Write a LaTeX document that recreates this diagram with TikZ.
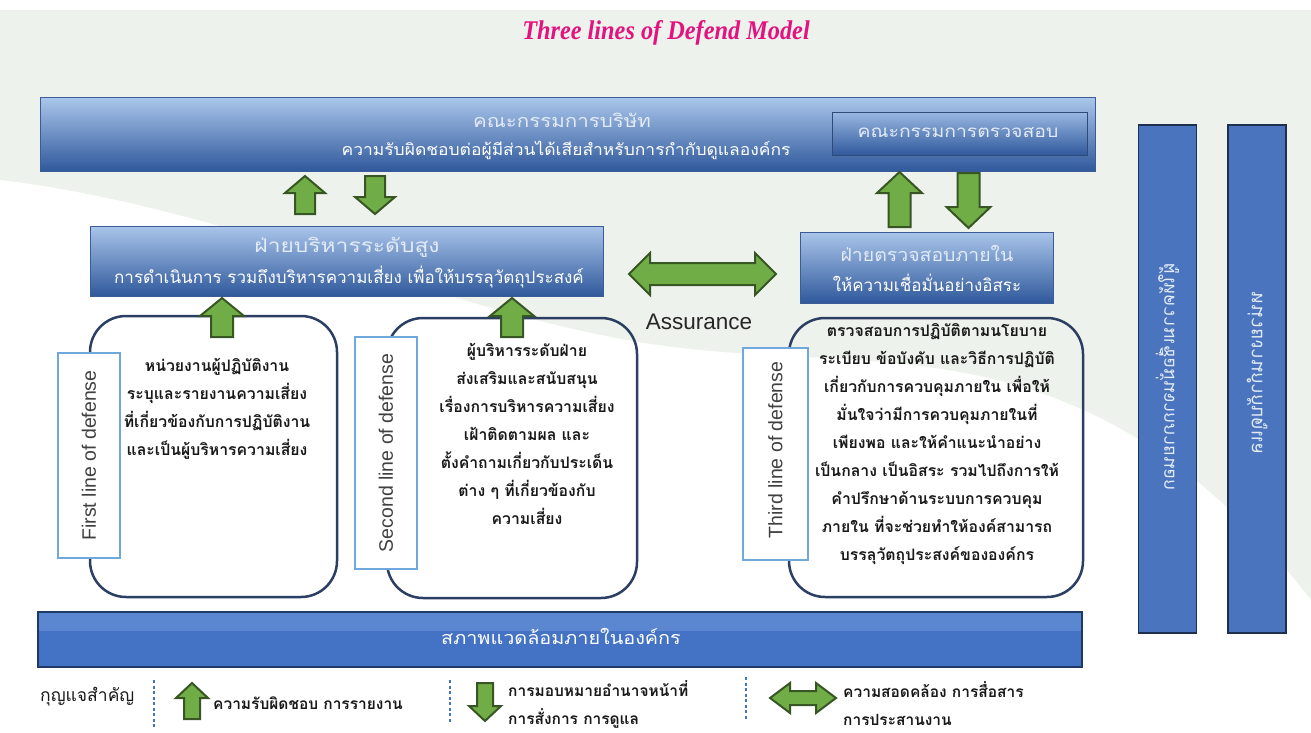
\documentclass[tikz,border=0pt]{standalone}
\usepackage{fontspec}
\setmainfont{Liberation Sans}
\newfontfamily\thai[Script=Thai]{Loma}
\newfontfamily\ttlfont{Liberation Serif}
\definecolor{bgray}{HTML}{EEF2EC}
\definecolor{btop}{HTML}{A9C5EA}
\definecolor{bmid}{HTML}{4E79BD}
\definecolor{bbot}{HTML}{30599C}
\definecolor{bedge}{HTML}{3B5C96}
\definecolor{navy}{HTML}{2B3E63}
\definecolor{lblue}{HTML}{6FA8DC}
\definecolor{grn}{HTML}{70AD47}
\definecolor{grnedge}{HTML}{375623}
\definecolor{barblue}{HTML}{4472C4}
\definecolor{barlight}{HTML}{5B87D0}
\definecolor{baredge}{HTML}{203864}
\definecolor{vblue}{HTML}{4A75BE}
\definecolor{vedge}{HTML}{1F2F4F}
\definecolor{pink}{HTML}{E3127F}
\definecolor{paletxt}{HTML}{E2EAF6}
\definecolor{dgray}{HTML}{404040}
\definecolor{dashblue}{HTML}{4472C4}
\newcommand\grnup[6]{\draw[garrow] (#1-#4,#3) -- (#1-#4,#2+#6) -- (#1-#5,#2+#6) -- (#1,#2) -- (#1+#5,#2+#6) -- (#1+#4,#2+#6) -- (#1+#4,#3) -- cycle;}
\newcommand\grndown[6]{\draw[garrow] (#1-#4,#2) -- (#1-#4,#3-#6) -- (#1-#5,#3-#6) -- (#1,#3) -- (#1+#5,#3-#6) -- (#1+#4,#3-#6) -- (#1+#4,#2) -- cycle;}
\newcommand\grnlr[6]{\draw[garrow] (#1,#3) -- (#1+#6,#3-#5) -- (#1+#6,#3-#4) -- (#2-#6,#3-#4) -- (#2-#6,#3-#5) -- (#2,#3) -- (#2-#6,#3+#5) -- (#2-#6,#3+#4) -- (#1+#6,#3+#4) -- (#1+#6,#3+#5) -- cycle;}
\tikzset{
  garrow/.style={fill=grn, draw=grnedge, line width=2pt, line join=miter},
  bluebox/.style={draw=bedge, line width=1pt, top color=btop, middle color=bmid, bottom color=bbot, inner sep=0pt},
  roundbox/.style={draw=navy, line width=2.5pt, rounded corners=36pt},
  labelbox/.style={draw=lblue, line width=2pt, fill=white, inner sep=0pt},
  labeltext/.style={rotate=90, font=\fontsize{19.5}{22}\selectfont, text=dgray},
  bodytxt/.style={font=\thai\bfseries\fontsize{15.8}{28}\selectfont, align=center, text=black!90, inner sep=0pt},
  hdtxt/.style={text=paletxt, inner sep=0pt},
  subtxt/.style={text=white, inner sep=0pt},
  legtxt/.style={font=\thai\bfseries\fontsize{15.5}{28}\selectfont, align=left, text=black!90, inner sep=0pt},
  vbar/.style={draw=vedge, line width=1.5pt, fill=vblue, inner sep=0pt},
  vtxt/.style={rotate=-90, yscale=-1, text=paletxt, inner sep=0pt},
  legdash/.style={draw=dashblue, line width=1.3pt, dash pattern=on 3pt off 2.5pt},
}
\begin{document}
\begin{tikzpicture}[x=1pt,y=-1pt]
\useasboundingbox (0,0) rectangle (1311,733);
% background
\fill[white] (0,0) rectangle (1311,733);
\fill[bgray] (0,10) rectangle (1311,733);
\fill[white] (0,180) .. controls (250,210) and (480,330) .. (700,350) .. controls (900,370) and (1100,330) .. (1311,600) -- (1311,733) -- (0,733) -- cycle;
\fill[white] (0,0) rectangle (1311,10);
% title
\node[font=\ttlfont\bfseries\itshape\fontsize{27}{30}\selectfont, text=pink, xscale=0.9] (title) at (666,33) {Three lines of Defend Model};
% board
\node[bluebox, minimum width=1055pt, minimum height=73pt] (board) at (567.5,134.5) {};
\node[hdtxt, font=\thai\fontsize{18}{20}\selectfont, xscale=1.14] (boardT) at (562,120) {คณะกรรมการบริษัท};
\node[subtxt, font=\thai\fontsize{16}{20}\selectfont, xscale=1.09] (boardS) at (566,150) {ความรับผิดชอบต่อผู้มีส่วนได้เสียสำหรับการกำกับดูแลองค์กร};
\node[bluebox, draw=bedge!80!black, top color=btop!80!bmid, middle color=bmid!90!black, bottom color=bbot, minimum width=255pt, minimum height=42pt] (audcom) at (959.5,134) {};
\node[hdtxt, font=\thai\fontsize{17}{20}\selectfont, xscale=1.14] (audcomT) at (958,133) {คณะกรรมการตรวจสอบ};
% senior management
\node[bluebox, minimum width=513pt, minimum height=70pt] (senior) at (346.5,261) {};
\node[hdtxt, font=\thai\fontsize{19}{20}\selectfont, xscale=1.2] (seniorT) at (347,247) {ฝ่ายบริหารระดับสูง};
\node[subtxt, font=\thai\fontsize{17}{20}\selectfont] (seniorS) at (349,277) {การดำเนินการ รวมถึงบริหารความเสี่ยง เพื่อให้บรรลุวัตถุประสงค์};
% internal audit
\node[bluebox, minimum width=253pt, minimum height=71pt] (iaudit) at (926.5,267.5) {};
\node[hdtxt, font=\thai\fontsize{18}{20}\selectfont, xscale=1.08] (iauditT) at (927,253) {ฝ่ายตรวจสอบภายใน};
\node[subtxt, font=\thai\fontsize{17}{20}\selectfont] (iauditS) at (927,283) {ให้ความเชื่อมั่นอย่างอิสระ};
% arrows board <-> senior / audit
\grnup{305}{176}{214}{10}{20}{17}
\grndown{375}{176}{214}{10}{20}{17}
\grnup{899.5}{172}{227}{11}{22.5}{21}
\grndown{968.5}{173}{228}{11}{22}{21}
\grnlr{629}{776}{274}{11}{21}{21}
\node[font=\fontsize{22.5}{24}\selectfont, text=black!85] (assur) at (699,322) {Assurance};
% rounded boxes
\draw[roundbox] (90,316) rectangle (337,597);
\draw[roundbox] (387,318) rectangle (637,598);
\draw[roundbox] (789,318) rectangle (1083,597);
% up arrows from boxes
\grnup{222}{298}{337}{11}{22}{18}
\grnup{512}{298}{337}{11}{22}{18}
% label boxes
\node[labelbox, minimum width=62pt, minimum height=205pt] (l1) at (89,455.5) {};
\node[labeltext] (l1t) at (89,455.5) {First line of defense};
\node[labelbox, minimum width=62pt, minimum height=232pt] (l2) at (386,453) {};
\node[labeltext] (l2t) at (386,453) {Second line of defense};
\node[labelbox, minimum width=65pt, minimum height=212pt] (l3) at (775.5,454) {};
\node[labeltext] (l3t) at (775.5,450) {Third line of defense};
% body texts
\node[bodytxt, anchor=north] (b1) at (217,358) {หน่วยงานผู้ปฏิบัติงาน\\ระบุและรายงานความเสี่ยง\\ที่เกี่ยวข้องกับการปฏิบัติงาน\\และเป็นผู้บริหารความเสี่ยง};
\node[bodytxt, anchor=north] (b2) at (527,343) {ผู้บริหารระดับฝ่าย\\ส่งเสริมและสนับสนุน\\เรื่องการบริหารความเสี่ยง\\เฝ้าติดตามผล และ\\ตั้งคำถามเกี่ยวกับประเด็น\\ต่าง ๆ ที่เกี่ยวข้องกับ\\ความเสี่ยง};
\node[bodytxt, anchor=north] (b3) at (937,323) {ตรวจสอบการปฏิบัติตามนโยบาย\\ระเบียบ ข้อบังคับ และวิธีการปฏิบัติ\\เกี่ยวกับการควบคุมภายใน เพื่อให้\\มั่นใจว่ามีการควบคุมภายในที่\\เพียงพอ และให้คำแนะนำอย่าง\\เป็นกลาง เป็นอิสระ รวมไปถึงการให้\\คำปรึกษาด้านระบบการควบคุม\\ภายใน ที่จะช่วยทำให้องค์สามารถ\\บรรลุวัตถุประสงค์ขององค์กร};
% bottom bar
\node[draw=baredge, line width=2pt, fill=barblue, minimum width=1044pt, minimum height=55pt, inner sep=0pt] (env) at (560,639.5) {};
\fill[barlight] (39,613) rectangle (1081,631);
\draw[baredge, line width=2pt] (38,612) rectangle (1082,667);
\node[subtxt, font=\thai\fontsize{18}{20}\selectfont, xscale=1.1] (envT) at (561,636) {สภาพแวดล้อมภายในองค์กร};
% vertical bars
\node[vbar, minimum width=58pt, minimum height=508pt] (ext) at (1167.5,379) {};
\node[vtxt, font=\thai\fontsize{18}{20}\selectfont] (extT) at (1167.5,377) {ผู้ให้ความเชื่อมั่นจากภายนอก};
\node[vbar, minimum width=58pt, minimum height=508pt] (reg) at (1257,379) {};
\node[vtxt, font=\thai\fontsize{19}{20}\selectfont] (regT) at (1257,373) {หน่วยงานกำกับดูแล};
% legend
\node[legtxt, font=\thai\fontsize{17.5}{20}\selectfont, anchor=west] (key) at (40,697) {กุญแจสำคัญ};
\draw[legdash] (154,680) -- (154,728);
\grnup{192}{683}{719}{8}{16}{15}
\node[legtxt, anchor=west] (k1) at (213,703) {ความรับผิดชอบ การรายงาน};
\draw[legdash] (450,680) -- (450,722);
\grndown{485}{683}{721}{8}{16}{15}
\node[legtxt, anchor=west] (k2) at (508,704) {การมอบหมายอำนาจหน้าที่\\การสั่งการ การดูแล};
\draw[legdash] (746,677) -- (746,720);
\grnlr{770}{836}{698}{7}{15}{20}
\node[legtxt, anchor=west] (k3) at (843,704) {ความสอดคล้อง การสื่อสาร\\การประสานงาน};
\end{tikzpicture}
\end{document}
